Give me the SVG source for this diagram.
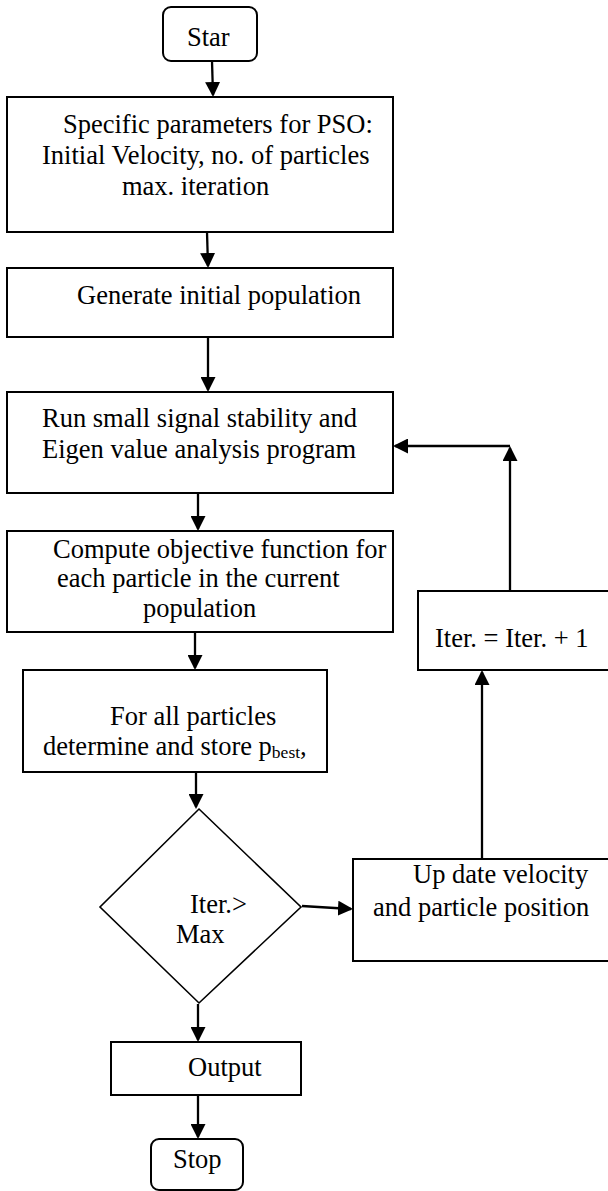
<svg xmlns="http://www.w3.org/2000/svg" width="608" height="1191" viewBox="0 0 608 1191">
<style>
.box{fill:#fff;stroke:#000;stroke-width:2}
.dia{fill:#fff;stroke:#000;stroke-width:1.6}
.t{font-family:"Liberation Serif","Times New Roman",serif;font-size:26.5px;fill:#000}
.sub{font-size:17.5px}
.c{stroke:#000;stroke-width:2.3;fill:none;marker-end:url(#ah)}
</style>
<defs>
<marker id="ah" viewBox="0 0 15 15" refX="13" refY="7.5" markerWidth="15" markerHeight="15" markerUnits="userSpaceOnUse" orient="auto">
<path d="M0,0 L15,7.5 L0,15 z" fill="#000"/>
</marker>
</defs>
<rect x="0" y="0" width="608" height="1191" fill="#fff"/>
<g id="connectors">
<line class="c" x1="212" y1="61" x2="213" y2="95"/>
<line class="c" x1="207" y1="232" x2="208" y2="266"/>
<line class="c" x1="208" y1="337" x2="208" y2="390"/>
<line class="c" x1="198" y1="493" x2="198" y2="529"/>
<line class="c" x1="195" y1="632" x2="195" y2="668"/>
<line class="c" x1="196" y1="772" x2="196" y2="807"/>
<line class="c" x1="302" y1="906" x2="351" y2="909"/>
<line class="c" x1="198" y1="1004" x2="198" y2="1040"/>
<line class="c" x1="198" y1="1095" x2="198" y2="1137"/>
<line class="c" x1="482" y1="858" x2="482" y2="672"/>
<line class="c" x1="510" y1="591" x2="510" y2="448"/>
<line class="c" x1="510" y1="446" x2="395" y2="446"/>
</g>
<g id="start">
<rect class="box" x="163" y="7" width="94" height="54" rx="8"/>
<text class="t" x="187" y="46">Star</text>
</g>
<g id="params">
<rect class="box" x="7" y="97" width="386" height="135"/>
<text class="t" x="63" y="133">Specific parameters for PSO:</text>
<text class="t" x="42" y="164">Initial Velocity, no. of particles</text>
<text class="t" x="122" y="195">max. iteration</text>
</g>
<g id="generate">
<rect class="box" x="7" y="268" width="386" height="69"/>
<text class="t" x="77" y="304">Generate initial population</text>
</g>
<g id="run">
<rect class="box" x="7" y="392" width="386" height="101"/>
<text class="t" x="42" y="427">Run small signal stability and</text>
<text class="t" x="42" y="458">Eigen value analysis program</text>
</g>
<g id="compute">
<rect class="box" x="7" y="531" width="386" height="101"/>
<text class="t" x="53" y="558">Compute objective function for</text>
<text class="t" x="57" y="587">each particle in the current</text>
<text class="t" x="143" y="617">population</text>
</g>
<g id="pbest">
<rect class="box" x="23" y="670" width="304" height="102"/>
<text class="t" x="110" y="725">For all particles</text>
<text class="t" x="43" y="755">determine and store p<tspan class="sub" dy="3">best</tspan><tspan dy="-3">,</tspan></text>
</g>
<g id="decision">
<polygon class="dia" points="199,809 301,907 199,1003 100,907"/>
<text class="t" x="190" y="913">Iter.&gt;</text>
<text class="t" x="176" y="943">Max</text>
</g>
<g id="update">
<rect class="box" x="353" y="859" width="260" height="102"/>
<text class="t" x="413" y="883">Up date velocity</text>
<text class="t" x="373" y="916">and particle position</text>
</g>
<g id="iter">
<rect class="box" x="418" y="591" width="195" height="79"/>
<text class="t" x="435" y="647">Iter. = Iter. + 1</text>
</g>
<g id="output">
<rect class="box" x="111" y="1042" width="190" height="53"/>
<text class="t" x="188" y="1076">Output</text>
</g>
<g id="stop">
<rect class="box" x="151" y="1139" width="92" height="51" rx="8"/>
<text class="t" x="173" y="1168">Stop</text>
</g>
</svg>
